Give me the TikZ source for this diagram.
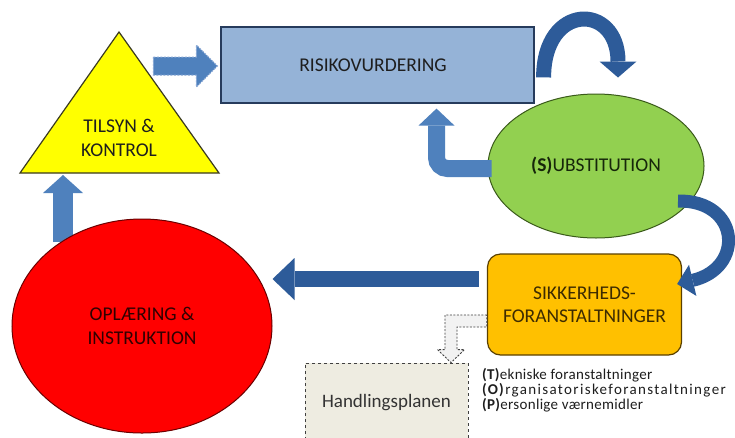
\documentclass[tikz,border=0pt]{standalone}
\usepackage{fontspec}
\setmainfont{Carlito}
\newfontfamily\lsA[LetterSpace=2]{Carlito}
\newfontfamily\lsB[LetterSpace=9]{Carlito}
\usetikzlibrary{shapes.geometric,arrows.meta,calc}
\definecolor{medblue}{HTML}{4F81BD}
\definecolor{darkblue}{HTML}{2D5B99}
\definecolor{lightdash}{HTML}{86A6D4}
\definecolor{rectfill}{HTML}{95B3D7}
\definecolor{rectline}{HTML}{263B5C}
\definecolor{trifill}{HTML}{FFFF00}
\definecolor{triline}{HTML}{3A3A20}
\definecolor{greenfill}{HTML}{92D050}
\definecolor{greenline}{HTML}{3A5A1A}
\definecolor{redfill}{HTML}{FF0000}
\definecolor{redline}{HTML}{6B0000}
\definecolor{orangefill}{HTML}{FFC000}
\definecolor{orangeline}{HTML}{5A4000}
\definecolor{beige}{HTML}{EEECE1}
\definecolor{darktext}{HTML}{1E1E1E}
\definecolor{redtext}{HTML}{300000}
\definecolor{browntext}{HTML}{3D2B00}
\definecolor{greentext}{HTML}{16260A}
\begin{document}
\begin{tikzpicture}[x=1pt,y=-1pt,
  lbl/.style={align=center,font=\fontsize{19.5}{23.5}\selectfont,inner sep=0pt},
  riskbox/.style={lbl,draw=rectline,fill=rectfill,line width=1.2pt,minimum width=313pt,minimum height=76pt,text=darktext},
  trishape/.style={draw=triline,fill=trifill,line width=1.2pt,line join=miter},
  greenell/.style={lbl,ellipse,draw=greenline,fill=greenfill,line width=1pt,minimum width=216pt,minimum height=144pt,text=greentext},
  redell/.style={lbl,ellipse,draw=redline,fill=redfill,line width=1pt,minimum width=260pt,minimum height=214pt,text=redtext},
  orangebox/.style={lbl,draw=orangeline,fill=orangefill,line width=1.2pt,rounded corners=13pt,minimum width=194pt,minimum height=101pt,text=browntext},
  planbox/.style={align=center,font=\fontsize{19}{22}\selectfont,draw=black!75,fill=beige,dashed,line width=0.8pt,minimum width=163pt,minimum height=80pt,inner sep=0pt,text=black!80},
  medarrow/.style={draw=medblue,line cap=butt},
  darkarrow/.style={draw=darkblue,line cap=butt},
  dashblock/.style={fill=medblue,draw=lightdash,line width=1pt,dash pattern=on 2pt off 1.5pt},
  graydash/.style={fill=black!5,draw=black!75,line width=0.9pt,dash pattern=on 2pt off 1.5pt},
]
\clip (0,0) rectangle (735,437);
\fill[white] (0,0) rectangle (735,437);

% triangle
\coordinate (tL) at (20,173);
\coordinate (tA) at (119,32);
\coordinate (tR) at (219,173);
\draw[trishape] (tL) -- (tA) -- (tR) -- cycle;
\node[lbl,text=darktext] (tilsyn) at (119,138) {TILSYN \&\\KONTROL};

% nodes
\node[riskbox] (risk) at (377.5,65) {\hspace*{-9pt}RISIKOVURDERING};
\node[greenell] (subst) at (596,166) {\textbf{(S)}UBSTITUTION};
\node[orangebox] (sikk) at (584.5,304.5) {SIKKERHEDS-\\FORANSTALTNINGER};
\node[planbox] (handl) at (386.5,403) {Handlingsplanen};
\node[anchor=north west,align=left,inner sep=0pt,font=\fontsize{15}{13.7}\selectfont,text=darktext] (tiltag) at (482,368.5)
  {{\lsA\textbf{(T)}ekniske foranstaltninger}\\
   {\lsB\textbf{(O)}rganisatoriskeforanstaltninger}\\
   {\lsA\textbf{(P)}ersonlige værnemidler}};

% up arrow: oplaering -> tilsyn
\coordinate (u1) at ($(tL)+(43,69)$);
\coordinate (u2) at ($(tL)+(43,2)$);
\draw[medarrow,line width=20pt,-{Triangle[width=40pt,length=18pt,line width=0pt 0 0]}] (u1) -- (u2);

\node[redell] (oplaer) at (142,326) {OPL\AE RING \&\\INSTRUKTION};

% dashed block arrow: tilsyn -> risk
\coordinate (d1) at ($(risk.west)+(-67,1)$);
\coordinate (d2) at ($(risk.west)+(-3,1)$);
\draw[dashblock] ($(d1)+(0,-9)$) -- ($(d2)+(-21,-9)$) -- ($(d2)+(-21,-21)$) -- (d2)
  -- ($(d2)+(-21,21)$) -- ($(d2)+(-21,9)$) -- ($(d1)+(0,9)$) -- cycle;

% arc: risk -> subst
\coordinate (a1) at ($(risk.north east)+(9,51)$);
\coordinate (a2) at ($(subst.north)+(22,-16)$);
\draw[darkarrow,line width=15pt,-{Triangle[width=37pt,length=16pt,line width=0pt 0 0]}]
  (a1) .. controls ($(a1)+(0,-75)$) and ($(a2)+(0,-75)$) .. (a2);

% bent arrow: subst -> risk
\coordinate (b1) at ($(subst.west)+(4,2.5)$);
\coordinate (b2) at ($(risk.south)+(59,5)$);
\draw[medarrow,line width=17pt,rounded corners=11pt,-{Triangle[width=36pt,length=17pt,line width=0pt 0 0]}]
  (b1) -- (b1 -| b2) -- (b2);

% arc: subst -> sikk
\coordinate (c1) at ($(subst.center)+(82,35)$);
\coordinate (c2) at ($(sikk.east)+(-5,-20.5)$);
\draw[darkarrow,line width=13pt,-{Triangle[width=32pt,length=16pt,line width=0pt 0 0]}]
  (c1) .. controls ($(c1)+(62,-1)$) and ($(c2)+(68,-16)$) .. (c2);

% left arrow: sikk -> oplaer
\coordinate (l1) at ($(sikk.west)+(-8,-25.5)$);
\coordinate (l2) at ($(oplaer.east)+(0,-47)$);
\draw[darkarrow,line width=16pt,-{Triangle[width=42pt,length=22pt,line width=0pt 0 0]}] (l1) -- (l2);

% dashed elbow arrow: sikk -> handl
\coordinate (e1) at ($(sikk.west)+(0,16.5)$);
\coordinate (e2) at ($(handl.north)+(64.5,0)$);
\draw[graydash] ($(e1)+(0,-6)$) -- ($(e2 |- e1)+(-6,-6)$) -- ($(e2)+(-6,-13)$) -- ($(e2)+(-13.5,-13)$)
  -- (e2) -- ($(e2)+(13.5,-13)$) -- ($(e2)+(6,-13)$) -- ($(e2 |- e1)+(6,6)$) -- ($(e1)+(0,6)$) -- cycle;
\end{tikzpicture}
\end{document}
